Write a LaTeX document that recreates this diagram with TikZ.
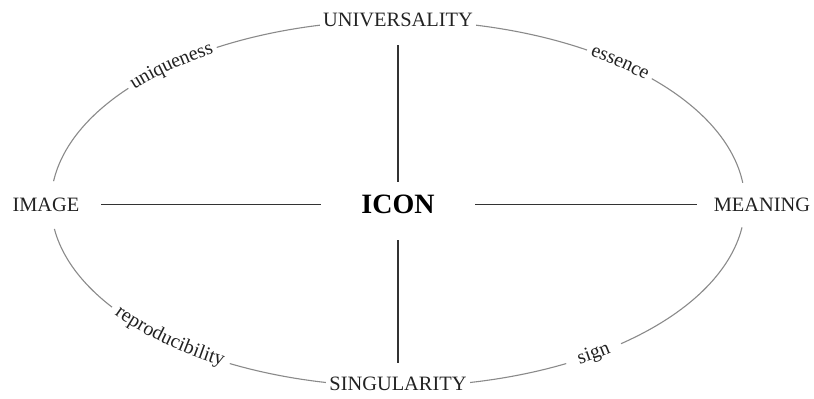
\documentclass[tikz,border=0pt]{standalone}
\usepackage{fontspec}
\setmainfont{Liberation Serif}
\usetikzlibrary{decorations.text}
\definecolor{inkgrey}{HTML}{222222}
\definecolor{rimgrey}{HTML}{8A8A8A}
\definecolor{spokegrey}{HTML}{333333}
\newcommand{\arcfont}{\fontsize{10}{12}\selectfont}

\begin{document}
\begin{tikzpicture}[
  x=0.5pt, y=0.5pt,
  pole/.style={inner sep=0pt, outer sep=0pt, text=inkgrey, font=\fontsize{10.2}{12}\selectfont},
  hub/.style={inner sep=0pt, outer sep=0pt, text=black, font=\fontsize{14}{16}\selectfont\bfseries},
  rim/.style={draw=rimgrey, line width=0.55pt},
  spoke/.style={draw=spokegrey, line width=0.9pt},
  arclabel/.style={decorate, decoration={text along path, text align=center, raise=-2.2pt, text color=inkgrey, text={|\arcfont|#1}}}
  ]
  \useasboundingbox (-398,-195.5) rectangle (416,203.5);
  % hub and poles
  \node[hub] (icon) at (0,-1) {ICON};
  \node[pole] (univ) at (0,184) {UNIVERSALITY};
  \node[pole] (sing) at (0,-180) {SINGULARITY};
  \node[pole] (image) at (-352,-1) {IMAGE};
  \node[pole] (meaning) at (364,-1) {MEANING};
  % spokes
  \draw[spoke, shorten <=9.4pt, shorten >=6.6pt] (univ) -- (icon);
  \draw[spoke, shorten <=13.1pt, shorten >=6.9pt] (icon) -- (sing);
  \draw[spoke, shorten <=10.8pt, shorten >=20.3pt] (image) -- (icon);
  \draw[spoke, shorten <=20.3pt, shorten >=8.4pt] (icon) -- (meaning);
  % rim, broken at the poles and the labels
  \foreach \a/\b in {6.5/43, 57/77, 103/121.5, 141/173, 188/214.5, 241/258, 282/299, 310/352.5}
    \draw[rim] (\a:347 and 183) arc[start angle=\a, end angle=\b, x radius=347, y radius=183];
  % rim labels
  \path[arclabel=uniqueness] (141:347 and 183) arc[start angle=141, end angle=121.5, x radius=347, y radius=183];
  \path[arclabel=essence] (57:347 and 183) arc[start angle=57, end angle=43, x radius=347, y radius=183];
  \path[arclabel=reproducibility] (214.5:347 and 183) arc[start angle=214.5, end angle=241, x radius=347, y radius=183];
  \path[arclabel=sign] (299:347 and 183) arc[start angle=299, end angle=310, x radius=347, y radius=183];
\end{tikzpicture}
\end{document}
